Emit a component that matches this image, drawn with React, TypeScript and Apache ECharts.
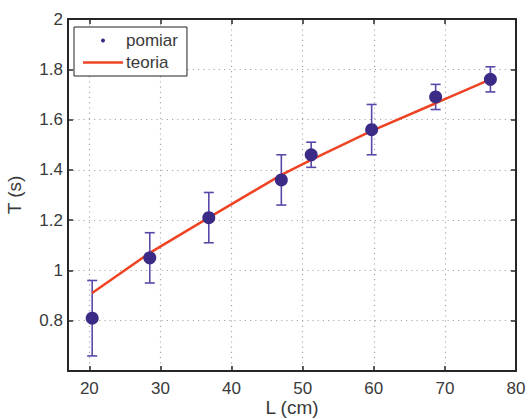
import React, { useEffect, useRef } from "react";
import * as echarts from "echarts";

// Measured pendulum lengths (cm), periods (s), and error bar half-widths (s)
const lengths = [20.4, 28.5, 36.8, 47.0, 51.2, 59.7, 68.7, 76.4];
const periods = [0.81, 1.05, 1.21, 1.36, 1.46, 1.56, 1.69, 1.76];
const errors = [0.15, 0.1, 0.1, 0.1, 0.05, 0.1, 0.05, 0.05];
// Theory curve at the same lengths
const theory = [0.91, 1.07, 1.21, 1.38, 1.44, 1.555, 1.665, 1.76];

const xTicks = [20, 30, 40, 50, 60, 70, 80];
const yTicks = [0.8, 1, 1.2, 1.4, 1.6, 1.8, 2];

const FONT = "'Liberation Sans', Arial, sans-serif";
const AXIS_COLOR = "#262626";
const TEXT_COLOR = "#3a3a3a";
const MARKER = "#3b2a86";
const LINE = "#ef4424";

export default function App() {
  const ref = useRef<HTMLDivElement>(null);

  useEffect(() => {
    if (!ref.current) return;
    const chart = echarts.init(ref.current, undefined, { renderer: "svg" });

    const axisLine = { show: true, lineStyle: { color: AXIS_COLOR, width: 2 } };
    const tickInside = (vals: number[]) => ({
      show: true,
      inside: true,
      length: 5,
      customValues: vals,
      lineStyle: { color: AXIS_COLOR, width: 1.5 },
    });
    const grid = {
      show: true,
      lineStyle: { color: "#a8a8a8", type: [1.2, 4], width: 1.2 },
    };

    chart.setOption({
      animation: false,
      backgroundColor: "#ffffff",
      textStyle: { fontFamily: FONT },
      grid: {
        left: 68,
        right: 13,
        top: 19,
        bottom: 48,
        containLabel: false,
        outerBoundsMode: "none",
      },
      legend: {
        orient: "vertical",
        left: 74,
        top: 27,
        backgroundColor: "#ffffff",
        borderColor: "#222222",
        borderWidth: 1,
        borderRadius: 0,
        padding: [5, 9, 5, 9],
        itemWidth: 40,
        itemHeight: 4,
        itemGap: 5,
        textStyle: { fontSize: 17, color: TEXT_COLOR, fontFamily: FONT, padding: [0, 0, 0, -2] },
        data: [
          { name: "pomiar", icon: "circle", itemStyle: { color: MARKER } },
          { name: "teoria", icon: "path://M0,0 L40,0 L40,2.6 L0,2.6 Z", itemStyle: { color: LINE } },
        ],
      },
      xAxis: [
        {
          type: "value",
          min: 17,
          max: 80,
          position: "bottom",
          axisLine,
          axisTick: tickInside(xTicks),
          axisLabel: {
            customValues: xTicks,
            fontSize: 17,
            color: TEXT_COLOR,
            fontFamily: FONT,
            margin: 9,
          },
          splitLine: grid,
          name: "L (cm)",
          nameLocation: "middle",
          nameGap: 27,
          nameMoveOverlap: false,
          nameTextStyle: { fontSize: 19, color: TEXT_COLOR, fontFamily: FONT },
        },
        {
          type: "value",
          min: 17,
          max: 80,
          position: "top",
          axisLine,
          axisTick: tickInside(xTicks),
          axisLabel: { show: false, customValues: xTicks },
          splitLine: { show: false },
        },
      ],
      yAxis: [
        {
          type: "value",
          min: 0.6,
          max: 2,
          position: "left",
          axisLine,
          axisTick: tickInside(yTicks),
          axisLabel: {
            customValues: yTicks,
            fontSize: 17,
            color: TEXT_COLOR,
            fontFamily: FONT,
            margin: 5,
          },
          splitLine: grid,
          name: "T (s)",
          nameLocation: "middle",
          nameGap: 44,
          nameMoveOverlap: false,
          nameTextStyle: { fontSize: 19, color: TEXT_COLOR, fontFamily: FONT },
        },
        {
          type: "value",
          min: 0.6,
          max: 2,
          position: "right",
          axisLine,
          axisTick: tickInside(yTicks),
          axisLabel: { show: false, customValues: yTicks },
          splitLine: { show: false },
        },
      ],
      series: [
        {
          name: "errorbars",
          type: "custom",
          xAxisIndex: 0,
          yAxisIndex: 0,
          z: 2,
          data: lengths.map((l, i) => [l, periods[i] - errors[i], periods[i] + errors[i]]),
          renderItem: (params: any, api: any) => {
            const x = api.value(0);
            const lo = api.coord([x, api.value(1)]);
            const hi = api.coord([x, api.value(2)]);
            const w = 5;
            const style = { stroke: "#5a48a8", lineWidth: 1.6 };
            return {
              type: "group",
              children: [
                { type: "line", shape: { x1: lo[0], y1: lo[1], x2: hi[0], y2: hi[1] }, style },
                { type: "line", shape: { x1: lo[0] - w, y1: lo[1], x2: lo[0] + w, y2: lo[1] }, style },
                { type: "line", shape: { x1: hi[0] - w, y1: hi[1], x2: hi[0] + w, y2: hi[1] }, style },
              ],
            };
          },
        },
        {
          name: "teoria",
          type: "line",
          z: 3,
          data: lengths.map((l, i) => [l, theory[i]]),
          showSymbol: false,
          symbol: "none",
          lineStyle: { color: LINE, width: 2.5 },
          itemStyle: { color: LINE },
        },
        {
          name: "pomiar",
          type: "scatter",
          z: 4,
          data: lengths.map((l, i) => [l, periods[i]]),
          symbol: "circle",
          symbolSize: 13,
          itemStyle: { color: MARKER, opacity: 1 },
        },
      ],
    });

    return () => chart.dispose();
  }, []);

  return (
    <div
      ref={ref}
      style={{ position: "fixed", left: 0, top: 0, width: 529, height: 419 }}
    />
  );
}
